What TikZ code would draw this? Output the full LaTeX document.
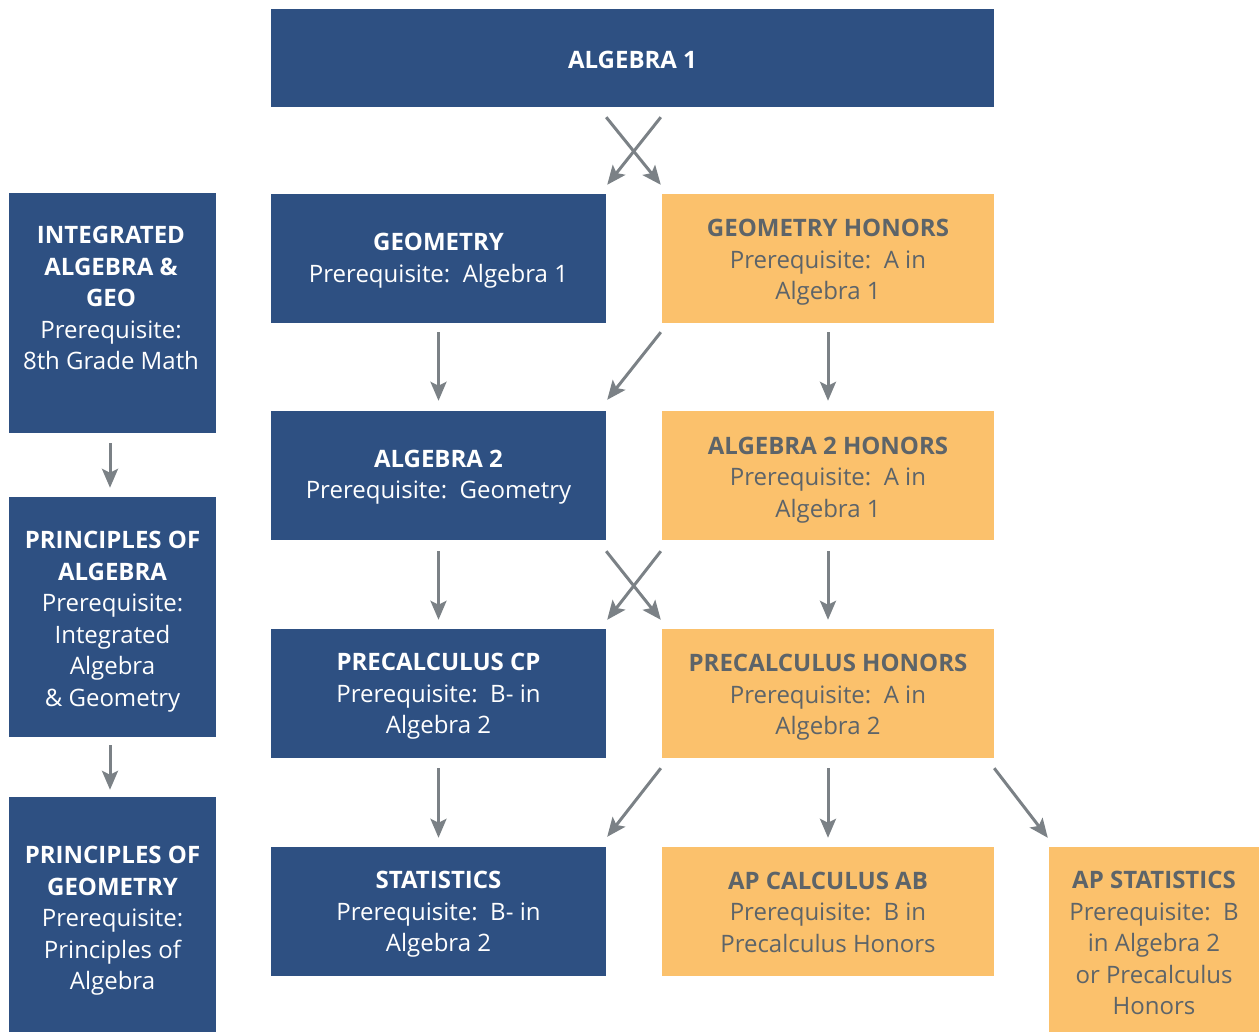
\documentclass[tikz,border=0pt]{standalone}
\usepackage{fontspec}
\setmainfont{Open Sans}
\usetikzlibrary{arrows.meta,calc}
\definecolor{navy}{HTML}{2E5082}
\definecolor{gold}{HTML}{FBC16C}
\definecolor{goldtxt}{HTML}{5D6469}
\definecolor{arrgray}{HTML}{7B8186}
\begin{document}
\begin{tikzpicture}[x=1pt,y=-1pt,
  box/.style={rectangle, inner sep=0pt},
  bluebox/.style={box, fill=navy},
  goldbox/.style={box, fill=gold},
  txt/.style={inner sep=0pt, align=center, font=\fontsize{24}{31.5}\selectfont},
  bluetxt/.style={txt, text=white},
  goldtxt/.style={txt, text=goldtxt},
  arr/.style={draw=arrgray, line width=3pt, -{Stealth[length=19pt,width=16pt,inset=4pt]}}
]
\useasboundingbox (0,0) rectangle (1259,1032);
% top
\node[bluebox, minimum width=723pt, minimum height=98pt] (alg1) at (632.5,58) {};
\node[bluetxt] (alg1t) at (632.5,60) {\textbf{ALGEBRA 1}};
% left column
\node[bluebox, minimum width=207pt, minimum height=240pt] (integ) at (112.5,313) {};
\node[bluetxt] (integt) at (111,298) {\textbf{INTEGRATED}\\\textbf{ALGEBRA \&}\\\textbf{GEO}\\Prerequisite:\\8th Grade Math};
\node[bluebox, minimum width=207pt, minimum height=240pt] (poa) at (112.5,617) {};
\node[bluetxt] (poat) at (112.5,621.5) {\textbf{PRINCIPLES OF}\\\textbf{ALGEBRA}\\Prerequisite:\\Integrated\\Algebra\\\& Geometry};
\node[bluebox, minimum width=207pt, minimum height=235pt] (pog) at (112.5,914.5) {};
\node[bluetxt] (pogt) at (112.5,921) {\textbf{PRINCIPLES OF}\\\textbf{GEOMETRY}\\Prerequisite:\\Principles of\\Algebra};
% middle column
\node[bluebox, minimum width=335pt, minimum height=129pt] (geo) at (438.5,258.5) {};
\node[bluetxt] (geot) at (438.5,260.5) {\textbf{GEOMETRY}\\Prerequisite:\ \ Algebra 1};
\node[bluebox, minimum width=335pt, minimum height=129pt] (alg2) at (438.5,475.5) {};
\node[bluetxt] (alg2t) at (438.5,477) {\textbf{ALGEBRA 2}\\Prerequisite:\ \ Geometry};
\node[bluebox, minimum width=335pt, minimum height=129pt] (pcp) at (438.5,693.5) {};
\node[bluetxt] (pcpt) at (438.5,696.5) {\textbf{PRECALCULUS CP}\\Prerequisite:\ \ B- in\\Algebra 2};
\node[bluebox, minimum width=335pt, minimum height=129pt] (stats) at (438.5,911.5) {};
\node[bluetxt] (statst) at (438.5,914.5) {\textbf{STATISTICS}\\Prerequisite:\ \ B- in\\Algebra 2};
% right column
\node[goldbox, minimum width=332pt, minimum height=129pt] (gh) at (828,258.5) {};
\node[goldtxt] (ght) at (828,262.5) {\textbf{GEOMETRY HONORS}\\Prerequisite:\ \ A in\\Algebra 1};
\node[goldbox, minimum width=332pt, minimum height=129pt] (alg2h) at (828,475.5) {};
\node[goldtxt] (alg2ht) at (828,480) {\textbf{ALGEBRA 2 HONORS}\\Prerequisite:\ \ A in\\Algebra 1};
\node[goldbox, minimum width=332pt, minimum height=129pt] (pch) at (828,693.5) {};
\node[goldtxt] (pcht) at (828,697.5) {\textbf{PRECALCULUS HONORS}\\Prerequisite:\ \ A in\\Algebra 2};
\node[goldbox, minimum width=332pt, minimum height=129pt] (apcalc) at (828,911.5) {};
\node[goldtxt] (apcalct) at (828,912) {\textbf{AP CALCULUS AB}\\Prerequisite:\ \ B in\\Precalculus Honors};
\node[goldbox, minimum width=210pt, minimum height=185pt] (apstat) at (1154,939.5) {};
\node[goldtxt] (apstatt) at (1154,943) {\textbf{AP STATISTICS}\\Prerequisite:\ \ B\\in Algebra 2\\or Precalculus\\Honors};
% arrows
\draw[arr] ($(alg1.south -| gh.west)+(-1,10)$) -- ($(geo.north east)+(1,-9)$);
\draw[arr] ($(alg1.south -| geo.east)+(0,10)$) -- ($(gh.north west)+(-1,-9)$);
\draw[arr, shorten <=9pt, shorten >=10pt] (geo) -- (alg2);
\draw[arr, shorten <=9pt, shorten >=10pt] (gh) -- (alg2h);
\draw[arr] ($(gh.south west)+(-1,9)$) -- ($(alg2.north east)+(1,-11)$);
\draw[arr] ($(integ.south)+(-2.5,10)$) -- ($(poa.north)+(-2.5,-9)$);
\draw[arr] ($(poa.south)+(-2.5,8)$) -- ($(pog.north)+(-2.5,-7)$);
\draw[arr, shorten <=11pt, shorten >=9pt] (alg2) -- (pcp);
\draw[arr, shorten <=11pt, shorten >=9pt] (alg2h) -- (pch);
\draw[arr] ($(alg2h.south west)+(-1,11)$) -- ($(pcp.north east)+(1,-9)$);
\draw[arr] ($(alg2.south east)+(0,11)$) -- ($(pch.north west)+(-1,-9)$);
\draw[arr, shorten <=10pt, shorten >=9pt] (pcp) -- (stats);
\draw[arr, shorten <=10pt, shorten >=9pt] (pch) -- (apcalc);
\draw[arr] ($(pch.south west)+(-1,10)$) -- ($(stats.north east)+(1,-10)$);
\draw[arr] ($(pch.south east)+(0,10)$) -- ($(apstat.north west)+(-1,-9)$);
\end{tikzpicture}
\end{document}
